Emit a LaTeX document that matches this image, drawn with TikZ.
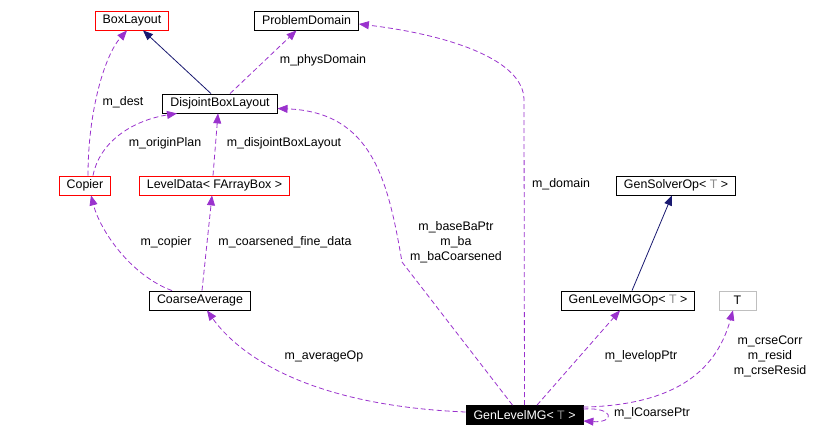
\documentclass[tikz,border=0pt]{standalone}
\usepackage{fontspec}
\setmainfont{Liberation Sans}
\usepackage{tikz}
\usetikzlibrary{arrows.meta, positioning, calc}

\definecolor{edgepurple}{HTML}{9A32CD}
\definecolor{edgenavy}{HTML}{191970}
\definecolor{tmplgray}{HTML}{8C8C8C}
\definecolor{boxgray}{HTML}{BFBFBF}

\newcommand{\tparm}{{\color{tmplgray}T}}

\begin{document}
\begin{tikzpicture}[x=1pt, y=-1pt,
	font=\fontsize{12.4}{15}\selectfont,
	cls/.style={draw=black, line width=0.8pt, minimum height=19pt, inner xsep=7.5pt, inner ysep=0pt, fill=white},
	clsred/.style={cls, draw=red},
	clsgray/.style={cls, draw=boxgray, minimum width=37pt},
	clsfocus/.style={cls, fill=black, text=white},
	member/.style={draw=edgepurple, line width=0.8pt, dash pattern=on 5pt off 3pt, -{Triangle[length=10pt, width=8pt]}},
	inherit/.style={draw=edgenavy, line width=0.8pt, -{Triangle[length=10pt, width=8pt]}},
	lbl/.style={inner sep=0pt, align=center}]
				\useasboundingbox (0,0) rectangle (822,437);

				% Classes
				\node[clsred] (boxlayout) at (132,20.5) {BoxLayout};
				\node[cls] (probdom) at (306.5,20.5) {ProblemDomain};
				\node[cls] (dbl) at (220,103.5) {DisjointBoxLayout};
				\node[clsred] (copier) at (85,185.5) {Copier};
				\node[clsred] (leveldata) at (214.5,185.5) {LevelData< FArrayBox >};
				\node[cls] (gensolver) at (676,185.5) {GenSolverOp< \tparm{} >};
				\node[cls] (coarseavg) at (200,300.5) {CoarseAverage};
				\node[cls] (levelop) at (628,300.5) {GenLevelMGOp< \tparm{} >};
				\node[clsgray] (tparam) at (737.5,300.5) {T};
				\node[clsfocus] (glmg) at (524.5,415) {GenLevelMG< \tparm{} >};

				% Inheritance
				\draw[inherit] ([xshift=-9]dbl.north) -- ([xshift=11]boxlayout.south);
				\draw[inherit] ([xshift=4]levelop.north) -- ([xshift=-4]gensolver.south);

				% Member links ; upper part
				\draw[member] ([xshift=10]dbl.north) -- ([xshift=-10]probdom.south);
				\draw[member] ([xshift=3]copier.north) .. controls (88,110) and (105,55) .. ([xshift=-5]boxlayout.south);
				\draw[member] ([xshift=8]copier.north) .. controls (100,140) and (135,120) .. ([xshift=-43]dbl.south);
				\draw[member] ([xshift=-1.5]leveldata.north) -- ([xshift=-2]dbl.south);
				\draw[member] ([xshift=-28]coarseavg.north) .. controls (130,275) and (100,230) .. ([xshift=6]copier.south);
				\draw[member] ([xshift=2]coarseavg.north) -- ([xshift=-2.5]leveldata.south);

				% Member links ; from GenLevelMG
				\draw[member] (glmg.north) -- (524,100) .. controls (524,60) and (450,35) .. ([yshift=-3.5]probdom.east);
				\draw[member] ([xshift=-12]glmg.north) -- (402,262) .. controls (388,180) and (372,112) .. ([yshift=-5]dbl.east);
				\draw[member] ([yshift=3]glmg.west) .. controls (300,405) and (235,350) .. ([xshift=7]coarseavg.south);
				\draw[member] ([xshift=12.5]glmg.north) -- ([xshift=-8]levelop.south);
				\draw[member] ([yshift=-2]glmg.north east) .. controls (670,405) and (715,375) .. ([xshift=-4.5]tparam.south);
				\draw[member] ([yshift=6]glmg.east) .. controls (615,407) and (615,423) .. ([yshift=-6]glmg.east);

				% Labels
				\node[lbl] (lphys) at (323,60) {m\_physDomain};
				\node[lbl] (ldest) at (123,102) {m\_dest};
				\node[lbl] (lorigin) at (165,143) {m\_originPlan};
				\node[lbl] (ldbl) at (284,143) {m\_disjointBoxLayout};
				\node[lbl] (ldomain) at (561,184) {m\_domain};
				\node[lbl] (lba) at (456,242) {m\_baseBaPtr\\m\_ba\\m\_baCoarsened};
				\node[lbl] (lcopier) at (166,242) {m\_copier};
				\node[lbl] (lcfd) at (285,242) {m\_coarsened\_fine\_data};
				\node[lbl] (lavg) at (324,356) {m\_averageOp};
				\node[lbl] (llevop) at (641,356) {m\_levelopPtr};
				\node[lbl] (lcrse) at (770,356) {m\_crseCorr\\m\_resid\\m\_crseResid};
				\node[lbl] (lcoarse) at (652,413) {m\_lCoarsePtr};
			\end{tikzpicture}
\end{document}
